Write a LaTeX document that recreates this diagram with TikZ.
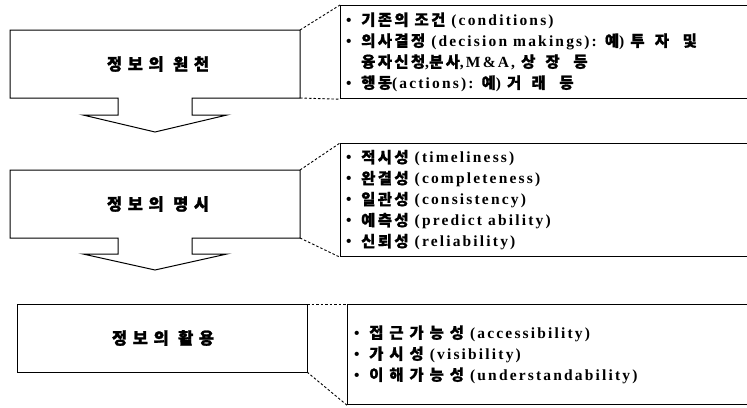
\documentclass[tikz,border=0pt]{standalone}
\usepackage{fontspec}
\setmainfont{Liberation Serif}[LetterSpace=14]
\newfontfamily\kr{Noto Sans CJK KR Bold}[LetterSpace=15,FakeBold=0.8]
\newfontfamily\krm{Noto Sans CJK KR Bold}[LetterSpace=38,FakeBold=0.8]
\newfontfamily\krw{Noto Sans CJK KR Bold}[LetterSpace=65,FakeBold=0.8]
\newfontfamily\krlab{Noto Sans CJK KR Bold}[LetterSpace=34,FakeBold=1.5]
\newcommand{\itm}{\makebox[15pt][l]{\normalfont\bfseries\textbullet}}
\newcommand{\ind}{\hspace*{15pt}}
\begin{document}
\begin{tikzpicture}[x=1pt,y=-1pt,
  flow/.style={draw=black,line width=1pt,line join=miter},
  callout/.style={draw=black,line width=1.2pt,rectangle,anchor=north west,inner sep=0pt},
  lbl/.style={font=\krlab\bfseries\fontsize{16.5pt}{18pt}\selectfont,inner sep=0pt},
  items/.style={anchor=west,align=left,inner sep=0pt,
    font=\bfseries\fontsize{15.5pt}{21pt}\selectfont},
  link/.style={draw=black,line width=0.9pt,dash pattern=on 2.5pt off 2pt}]
\useasboundingbox (0,0) rectangle (747,407);

% ---- flow box 1 with arrow
\coordinate (b1nw) at (10,30);
\coordinate (b1ne) at (300,30);
\coordinate (b1se) at (300,98);
\coordinate (b1sw) at (10,98);
\path[flow] (b1nw) -- (b1ne) -- (b1se) -- (192,98) -- (192,115) -- (227,115)
  -- (155,132) -- (83,115) -- (118,115) -- (118,98) -- (b1sw) -- cycle;
\node[lbl] (l1) at (158,64) {정보의 원천};

% ---- flow box 2 with arrow
\coordinate (b2nw) at (10,170);
\coordinate (b2ne) at (300,170);
\coordinate (b2se) at (300,238);
\coordinate (b2sw) at (10,238);
\path[flow] (b2nw) -- (b2ne) -- (b2se) -- (192,238) -- (192,254) -- (227,254)
  -- (155,270) -- (83,254) -- (118,254) -- (118,238) -- (b2sw) -- cycle;
\node[lbl] (l2) at (158,204) {정보의 명시};

% ---- flow box 3
\coordinate (b3nw) at (17,304);
\coordinate (b3ne) at (307,304);
\coordinate (b3se) at (307,372);
\coordinate (b3sw) at (17,372);
\path[flow] (b3nw) -- (b3ne) -- (b3se) -- (b3sw) -- cycle;
\node[lbl] (l3) at (163,338) {정보의 활용};

% ---- callouts
\node[callout,minimum width=412pt,minimum height=93pt] (c1) at (340,5) {};
\node[callout,minimum width=412pt,minimum height=113pt] (c2) at (340,143) {};
\node[callout,minimum width=405pt,minimum height=100pt] (c3) at (347,304) {};

\node[items] (t1) at ([xshift=6pt]c1.west) {%
\itm{\kr 기존의 조건} (conditions)\\
\itm{\kr 의사결정} (decision makings): {\krw 예}) {\krw 투자 및}\\
\ind{\kr 융자신청},{\kr 분사},M\&A, {\krw 상장 등}\\
\itm{\kr 행동}(actions): {\krw 예}) {\krw 거래 등}};

\node[items] (t2) at ([xshift=6pt]c2.west) {%
\itm{\kr 적시성} (timeliness)\\
\itm{\kr 완결성} (completeness)\\
\itm{\kr 일관성} (consistency)\\
\itm{\kr 예측성} (predict ability)\\
\itm{\kr 신뢰성} (reliability)};

\node[items] (t3) at ([xshift=7pt]c3.west) {%
\itm{\krm 접근가능성} (accessibility)\\
\itm{\krm 가시성} (visibility)\\
\itm{\krm 이해가능성} (understandability)};

% ---- dashed links
\draw[link] (b1ne) -- (c1.north west);
\draw[link] (b1se) -- (c1.south west);
\draw[link] (b2ne) -- (c2.north west);
\draw[link] (b2se) -- (c2.south west);
\draw[link] (b3ne) -- (c3.north west);
\draw[link] (b3se) -- (c3.south west);
\end{tikzpicture}
\end{document}
